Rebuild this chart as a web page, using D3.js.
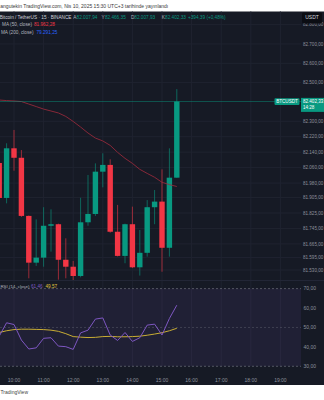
<!DOCTYPE html>
<html><head><meta charset="utf-8">
<script src="https://cdn.jsdelivr.net/npm/d3@7"></script>
<style>body{margin:0;background:#fff;overflow:hidden}svg{display:block;font-family:"Liberation Sans",Arial,sans-serif}</style>
</head><body>
<svg id="c" width="324" height="400"></svg>
<script>
// ---- data ----
const times = ["09:30","09:45","10:00","10:15","10:30","10:45","11:00","11:15","11:30","11:45","12:00","12:15","12:30","12:45","13:00","13:15","13:30","13:45","14:00","14:15","14:30","14:45","15:00","15:15","15:30"];
const open  = [82084,81903,82160,82111,81810,81568,81594,81759,81767,81583,81547,81499,81777,81820,82039,82074,81728,81603,81767,81544,81619,81855,81884,81645,82007.94];
const high  = [82095,82186,82255,82151,81812,81792,81855,81844,81770,81694,81577,81904,82022,82082,82134,82103,81867,81770,81858,81737,81892,81944,82051,82160,82466.35];
const low   = [81890,81875,82044,81805,81487,81551,81547,81625,81480,81487,81478,81492,81759,81810,81958,81723,81600,81565,81540,81501,81599,81767,81521,81599,82007.93];
const close = [81903,82160,82111,81810,81568,81594,81759,81767,81583,81547,81499,81777,81820,82039,82074,81728,81603,81767,81544,81619,81855,81884,81645,82007.94,82402.33];
const ma50  = [82410,82407,82405,82402,82389,82376,82363,82353,82343,82325,82299,82270,82239,82213,82198,82175,82139,82108,82082,82051,82030,82010,81984,81972,81962.28];
const rsi   = [45.5,52.4,51.5,43.5,38.9,39.5,44.4,44.7,40.4,40.1,38.7,47.2,48.6,54.3,54.9,46.1,43.3,47.4,42.8,44.7,51.2,51.7,46.1,54.6,61.46];
const rsiMa = [47.4,48.3,48.9,49.1,49.1,49.0,48.9,48.6,48.0,46.8,45.3,45.0,44.8,44.9,45.3,45.4,45.2,45.2,45.3,45.5,46.0,46.6,47.3,48.3,49.57];
const priceTicks = [82800,82700,82600,82500,82300,82220,82140,82060,81980,81905,81825,81745,81665,81595,81530];
const rsiTicks = [70,60,50,40,30];
const timeTicks = ["10:00","11:00","12:00","13:00","14:00","15:00","16:00","17:00","18:00","19:00"];
const lastPrice = 82402.33, change = 394.39, changePct = 0.48, ma200Last = 79291.25;
const symbolTitle = "Bitcoin / TetherUS · 15 · BINANCE";
const headerText = "angutekin TradingView.com, Nis 10, 2025 15:30 UTC+3 tarihinde yayınlandı";

// ---- layout ----
const W=324,H=400, BG="#161a25", GRID="#1f2330", TXT="#8d919c";
const paneR=301, mainTop=11.5, mainBot=280, footTop=385;
const GREEN="#089981", RED="#f23645";
const loc = d3.formatLocale({decimal:",",thousands:".",grouping:[3],currency:["",""]});
const f2 = loc.format(",.2f");
const mins = s => { const [h,m]=s.split(":").map(Number); return h*60+m; };

const svg = d3.select("#c");
svg.append("rect").attr("width",W).attr("height",H).attr("fill","#fff");
svg.append("rect").attr("x",0).attr("y",mainTop).attr("width",W).attr("height",footTop-mainTop).attr("fill",BG);

const x = d3.scaleLinear().domain([mins("10:00"),mins("19:00")]).range([14,280.4]);
const yP = d3.scaleLinear().domain([81530,82600]).range([270,63.3]);
const yR = d3.scaleLinear().domain([30,70]).range([366.3,288.6]);

// grid
svg.append("g").selectAll("line").data(timeTicks).join("line")
  .attr("x1",d=>x(mins(d))).attr("x2",d=>x(mins(d))).attr("y1",mainTop).attr("y2",yR(30))
  .attr("stroke",GRID).attr("stroke-width",1);
svg.append("g").selectAll("line").data(priceTicks).join("line")
  .attr("x1",0).attr("x2",paneR).attr("y1",d=>yP(d)).attr("y2",d=>yP(d))
  .attr("stroke",GRID).attr("stroke-width",1);

// clip for panes
const defs = svg.append("defs");
defs.append("clipPath").attr("id","mc").append("rect").attr("x",0).attr("y",mainTop+1).attr("width",paneR).attr("height",mainBot-mainTop-1);
defs.append("clipPath").attr("id","rc").append("rect").attr("x",0).attr("y",mainBot).attr("width",paneR).attr("height",yR(30)-mainBot+4);

const main = svg.append("g").attr("clip-path","url(#mc)");
const candles = times.map((t,i)=>({t:mins(t),o:open[i],h:high[i],l:low[i],c:close[i]}));
const bw = 5.4;
main.append("g").selectAll("line").data(candles).join("line")
  .attr("x1",d=>x(d.t)).attr("x2",d=>x(d.t)).attr("y1",d=>yP(d.h)).attr("y2",d=>yP(d.l))
  .attr("stroke",d=>d.c>=d.o?GREEN:RED).attr("stroke-opacity",0.6).attr("stroke-width",1);
main.append("g").selectAll("rect").data(candles).join("rect")
  .attr("x",d=>x(d.t)-bw/2).attr("width",bw)
  .attr("y",d=>yP(Math.max(d.o,d.c))).attr("height",d=>Math.max(0.8,Math.abs(yP(d.o)-yP(d.c))))
  .attr("fill",d=>d.c>=d.o?GREEN:RED);
// MA50
main.append("path").datum(times.map((t,i)=>[mins(t),ma50[i]]))
  .attr("d",d3.line().x(d=>x(d[0])).y(d=>yP(d[1])))
  .attr("fill","none").attr("stroke","#9a2a3c").attr("stroke-opacity",0.85).attr("stroke-width",1);
// last price line
main.append("line").attr("x1",0).attr("x2",paneR).attr("y1",yP(lastPrice)).attr("y2",yP(lastPrice))
  .attr("stroke",GREEN).attr("stroke-opacity",0.45).attr("stroke-width",1);

// pane separator
svg.append("line").attr("x1",0).attr("x2",W).attr("y1",mainBot+0.5).attr("y2",mainBot+0.5).attr("stroke","#222636");

// RSI pane
svg.append("rect").attr("x",0).attr("width",paneR).attr("y",yR(70)).attr("height",yR(30)-yR(70))
  .attr("fill","#7e57c2").attr("fill-opacity",0.1);
svg.append("g").selectAll("line").data([70,50,30]).join("line")
  .attr("x1",0).attr("x2",paneR).attr("y1",d=>yR(d)).attr("y2",d=>yR(d))
  .attr("stroke","#787b86").attr("stroke-opacity",d=>d===50?0.35:0.6).attr("stroke-dasharray","2,2");
const rp = svg.append("g").attr("clip-path","url(#rc)");
rp.append("path").datum(times.map((t,i)=>[mins(t),rsiMa[i]]))
  .attr("d",d3.line().x(d=>x(d[0])).y(d=>yR(d[1])))
  .attr("fill","none").attr("stroke","#c9ad34").attr("stroke-width",1);
rp.append("path").datum(times.map((t,i)=>[mins(t),rsi[i]]))
  .attr("d",d3.line().x(d=>x(d[0])).y(d=>yR(d[1])))
  .attr("fill","none").attr("stroke","#7e57c2").attr("stroke-width",1);

// price axis labels (fit inside the right edge)
const fs=5, afs=4.55;
svg.append("g").selectAll("text").data(priceTicks).join("text")
  .attr("x",303).attr("y",d=>yP(d)+1.7).attr("font-size",afs).attr("fill",TXT).text(d=>f2(d));
svg.append("g").selectAll("text").data(rsiTicks).join("text")
  .attr("x",303.5).attr("y",d=>yR(d)+1.7).attr("font-size",fs).attr("fill",TXT).text(d=>f2(d));
// USDT box
svg.append("rect").attr("x",302).attr("y",12.5).attr("width",20).attr("height",11).attr("rx",1.5).attr("fill","#0b0d13");
svg.append("text").attr("x",312).attr("y",19.4).attr("text-anchor","middle").attr("font-size",fs).attr("fill","#d1d4dc").text("USDT");
// last price labels
const ly=yP(lastPrice);
svg.append("rect").attr("x",274.5).attr("y",ly-3.2).attr("width",25).attr("height",6.6).attr("rx",0.8).attr("fill",GREEN);
svg.append("text").attr("x",287).attr("y",ly+1.7).attr("text-anchor","middle").attr("font-size",4.6).attr("fill","#fff").text("BTCUSDT");
svg.append("rect").attr("x",301).attr("y",ly-3.6).attr("width",24).attr("height",14).attr("fill",GREEN);
svg.append("text").attr("x",303).attr("y",ly+1.8).attr("font-size",afs).attr("fill","#fff").text(f2(lastPrice));
svg.append("text").attr("x",303).attr("y",ly+7.6).attr("font-size",afs).attr("fill","#fff").text("14:28");

// time axis
svg.append("g").selectAll("text").data(timeTicks).join("text")
  .attr("x",d=>x(mins(d))).attr("y",381.8).attr("text-anchor","middle").attr("font-size",fs).attr("fill",TXT).text(d=>d);

// legends
const lfs=4.7;
const lg = svg.append("g").attr("font-size",lfs);
lg.append("text").attr("x",71.5).attr("y",19.1).attr("text-anchor","end").attr("fill","#d1d4dc").text(symbolTitle);
const ohlc=[["A",open[open.length-1],73.3],["Y",high[high.length-1],101.6],["D",low[low.length-1],131],["K",close[close.length-1],161.8]];
ohlc.forEach(([k,v,px])=>{
  lg.append("text").attr("x",px).attr("y",19.1).attr("fill","#b2b5be").text(k);
  lg.append("text").attr("x",px+3.3).attr("y",19.1).attr("fill",GREEN).text(f2(v));
});
lg.append("text").attr("x",188).attr("y",19.1).attr("fill",GREEN).text("+"+f2(change)+" (+"+f2(changePct)+"%)");
lg.append("text").attr("x",32).attr("y",25.9).attr("text-anchor","end").attr("fill","#b2b5be").text("MA (50, close)");
lg.append("text").attr("x",34).attr("y",25.9).attr("fill",RED).text(f2(ma50[ma50.length-1]));
lg.append("text").attr("x",33.5).attr("y",33.5).attr("text-anchor","end").attr("fill","#b2b5be").text("MA (200, close)");
lg.append("text").attr("x",36.5).attr("y",33.5).attr("fill","#2962ff").text(f2(ma200Last));
lg.append("text").attr("x",0.4).attr("y",287.8).attr("font-size",4.4).attr("fill","#b2b5be").text("RSI (14, close)");
lg.append("text").attr("x",31).attr("y",287.8).attr("fill","#7e57c2").text(f2(rsi[rsi.length-1]));
lg.append("text").attr("x",45.5).attr("y",287.8).attr("fill","#e0c23f").text(f2(rsiMa[rsiMa.length-1]));

// header/footer
svg.append("text").attr("x",0.3).attr("y",7.5).attr("font-size",fs).attr("fill","#3a3a3a").text(headerText);
svg.append("text").attr("x",0.5).attr("y",394).attr("font-size",fs).attr("fill","#444").text("TradingView");
</script>
</body></html>
